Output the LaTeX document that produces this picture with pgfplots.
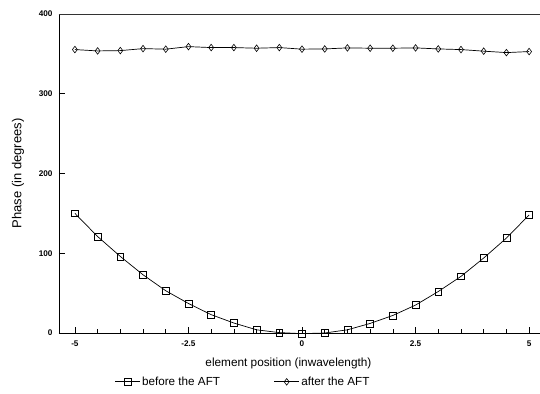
\documentclass[border=0pt]{standalone}
\usepackage{pgfplots}
\pgfplotsset{compat=1.18}
\usepackage{fontspec}
\setmainfont{Liberation Sans}

% phase of each array element, before and after the transform
\pgfplotstableread{
x     before  after
-5.0  150     355.4
-4.5  121     353.7
-4.0  96      354.1
-3.5  73      356.6
-3.0  53      355.9
-2.5  37      359.1
-2.0  23      357.9
-1.5  12.5    357.9
-1.0  4       357.1
-0.5  0.5     357.9
 0.0  -0.8    355.9
 0.5  0       356.2
 1.0  4       357.5
 1.5  12      357.1
 2.0  22      357.1
 2.5  35      357.5
 3.0  52      356.2
 3.5  71      355.4
 4.0  94      353.4
 4.5  119     351.6
 5.0  148     352.9
}\phasedata

\begin{document}
\begin{tikzpicture}
\path[use as bounding box] (-59pt,-60pt) rectangle (481pt,333pt);
\begin{axis}[
  at={(0,0)}, anchor=south west,
  scale only axis,
  width=481pt, height=319pt,
  xmin=-5.35, xmax=5.24,
  ymin=0, ymax=400,
  clip=false,
  axis x line*=bottom,
  axis y line*=left,
  axis line style={line width=0.8pt},
  xtick={-5,-2.5,0,2.5,5},
  xticklabels={-5,-2.5,0,2.5,5},
  minor xtick={-4.5,-4,...,4.5},
  ytick={0,100,200,300,400},
  tick align=inside,
  major tick length=6pt,
  minor tick length=4pt,
  tick style={line width=0.6pt, black},
  /pgf/number format/assume math mode=true,
  ticklabel style={font=\fontsize{8.2}{9}\selectfont\bfseries},
  xticklabel style={yshift=-4pt},
  yticklabel style={xshift=-3pt},
  xlabel={element position (inwavelength)},
  ylabel={Phase (in degrees)},
  xlabel style={font=\fontsize{11.8}{14}\selectfont,
    at={(axis description cs:0.477,0)}, anchor=center, yshift=-30pt},
  ylabel style={font=\fontsize{13}{15}\selectfont,
    at={(axis description cs:-0.0852,0.5)}, anchor=center},
  legend columns=2,
  legend style={
    at={(0.383,-0.153)}, anchor=center,
    draw=none, fill=none,
    font=\fontsize{11.7}{14}\selectfont,
    inner xsep=0pt,
    /tikz/every even column/.append style={column sep=52pt},
    cells={anchor=west},
  },
  legend image code/.code={
    \draw[#1, mark repeat=2, mark phase=2] plot coordinates {(0cm,0cm) (0.43cm,0cm) (0.86cm,0cm)};
  },
  every axis plot/.append style={black, line width=0.7pt},
]
\addplot[mark=square, mark size=3.4pt, mark options={line width=0.6pt}] table[x=x, y=before] {\phasedata};
\addlegendentry{before the AFT}
\addplot[mark=diamond, mark size=3.3pt, mark options={line width=0.6pt}] table[x=x, y=after] {\phasedata};
\addlegendentry{after the AFT}
\draw[line width=0.8pt, black!80] (rel axis cs:0,1) -- (rel axis cs:1,1);
\end{axis}
\end{tikzpicture}
\end{document}
